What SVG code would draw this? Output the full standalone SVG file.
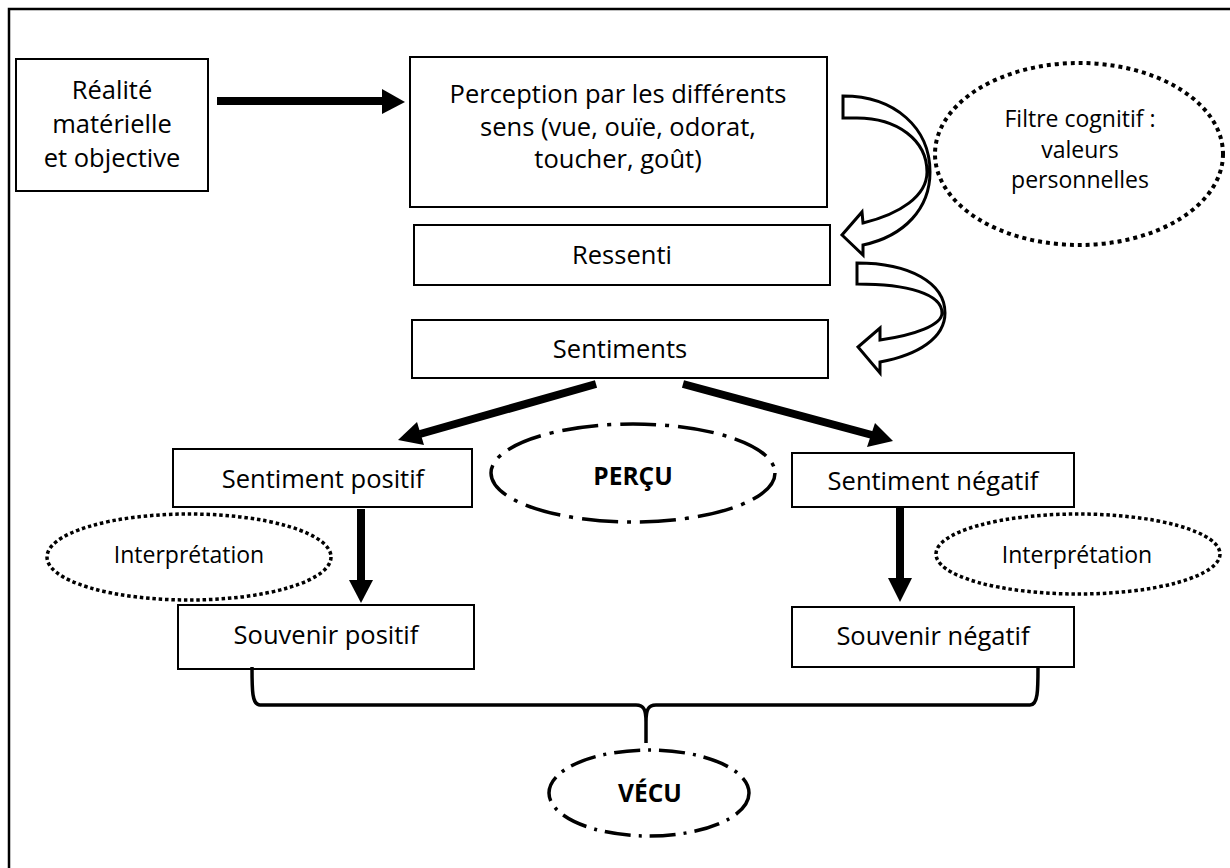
<svg xmlns="http://www.w3.org/2000/svg" width="1230" height="868" viewBox="0 0 1230 868">
<style>
.box{fill:#fff;stroke:#000;stroke-width:2}
.t{font-family:"Open Sans","Liberation Sans",sans-serif;font-size:25.5px;fill:#000;text-anchor:middle}
.ts{font-family:"Open Sans","Liberation Sans",sans-serif;font-size:23px;fill:#000;text-anchor:middle}
.tb{font-family:"Open Sans","Liberation Sans",sans-serif;font-size:24.5px;font-weight:bold;fill:#000;text-anchor:middle}
.dot{fill:none;stroke:#000;stroke-width:4;stroke-dasharray:4 4}
.dot2{fill:none;stroke:#000;stroke-width:3.5;stroke-dasharray:3.5 2.8}
.dd{fill:none;stroke:#000;stroke-width:3.5;stroke-dasharray:36 9 4 9}
.dd2{fill:none;stroke:#000;stroke-width:3.5;stroke-dasharray:26 8 3 8}
.shaft{stroke:#000;stroke-width:8;fill:none}
.head{fill:#000}
.hollow{fill:#fff;stroke:#000;stroke-width:3;stroke-linejoin:miter}
.frame{stroke:#000;stroke-width:2.5;fill:none}
</style>
<rect width="1230" height="868" fill="#fff"/>
<path class="frame" d="M9,868 V9 H1230"/>

<g id="realite">
<rect class="box" x="16" y="59" width="192" height="132"/>
<text class="t" x="112" y="99">Réalité</text>
<text class="t" x="112" y="133">matérielle</text>
<text class="t" x="112" y="167">et objective</text>
</g>

<g id="perception">
<rect class="box" x="410" y="57" width="417" height="150"/>
<text class="t" x="618" y="103">Perception par les différents</text>
<text class="t" x="618" y="135.5">sens (vue, ouïe, odorat,</text>
<text class="t" x="618" y="168">toucher, goût)</text>
</g>

<g id="filtre">
<ellipse class="dot" cx="1079" cy="154" rx="144" ry="91"/>
<text class="ts" x="1080" y="127">Filtre cognitif :</text>
<text class="ts" x="1080" y="158">valeurs</text>
<text class="ts" x="1080" y="188">personnelles</text>
</g>

<g id="ressenti">
<rect class="box" x="414" y="225" width="416" height="60"/>
<text class="t" x="622" y="264">Ressenti</text>
</g>

<g id="sentiments">
<rect class="box" x="412" y="320" width="416" height="58"/>
<text class="t" x="620" y="358">Sentiments</text>
</g>

<g id="sentiment-positif">
<rect class="box" x="173" y="449" width="299" height="58"/>
<text class="t" x="323" y="488">Sentiment positif</text>
</g>

<g id="percu">
<ellipse class="dd" cx="633" cy="473" rx="142" ry="49"/>
<text class="tb" x="633" y="485">PERÇU</text>
</g>

<g id="sentiment-negatif">
<rect class="box" x="792" y="453" width="282" height="54"/>
<text class="t" x="933" y="490">Sentiment négatif</text>
</g>

<g id="interpretation-gauche">
<ellipse class="dot2" cx="189" cy="557" rx="142" ry="43"/>
<text class="ts" x="189" y="563">Interprétation</text>
</g>

<g id="interpretation-droite">
<ellipse class="dot2" cx="1078" cy="554" rx="142" ry="40"/>
<text class="ts" x="1077" y="563">Interprétation</text>
</g>

<g id="souvenir-positif">
<rect class="box" x="178" y="605" width="296" height="64"/>
<text class="t" x="326" y="644">Souvenir positif</text>
</g>

<g id="souvenir-negatif">
<rect class="box" x="792" y="607" width="282" height="60"/>
<text class="t" x="933" y="645">Souvenir négatif</text>
</g>

<g id="vecu">
<ellipse class="dd2" cx="649" cy="793" rx="100" ry="43"/>
<text class="tb" x="650" y="802">VÉCU</text>
</g>

<g id="connectors">
<!-- Réalité -> Perception -->
<line class="shaft" x1="217" y1="101" x2="384" y2="101"/>
<polygon class="head" points="382,89 405,102 382,114"/>
<!-- Sentiments -> Sentiment positif -->
<line class="shaft" x1="596" y1="384" x2="420" y2="434"/>
<polygon class="head" points="417,422 398,440 424,445"/>
<!-- Sentiments -> Sentiment négatif -->
<line class="shaft" x1="683" y1="384" x2="872" y2="435"/>
<polygon class="head" points="875,423 893,441 867,447"/>
<!-- Sentiment positif -> Souvenir positif -->
<line class="shaft" x1="361" y1="509" x2="361" y2="582"/>
<polygon class="head" points="349,580 373,580 361,603"/>
<!-- Sentiment négatif -> Souvenir négatif -->
<line class="shaft" x1="900" y1="507" x2="900" y2="580"/>
<polygon class="head" points="888,578 912,578 900,602"/>
<!-- curved hollow arrows -->
<path class="hollow" d="M843,96 C895,96 930,128 930,172 C930,208 905,236 863,245 L863,255 L842,235 L862,212 L863,223 C900,214 927,196 927,172 C927,140 897,118 857,118 L843,118 Z"/>
<path class="hollow" d="M857,263 C910,263 945,283 945,313 C945,338 918,355 880,362 L880,373 L858,347 L880,328 L880,340 C915,335 942,325 942,313 C942,294 908,284 857,284 Z"/>
<!-- brace to VÉCU -->
<path fill="none" stroke="#000" stroke-width="3.5" d="M252,667 C252,690 252,705 260,705 L636,705 C644,705 646,710 646,722 L646,743 M646,722 C646,710 648,705 656,705 L1030,705 C1038,705 1038,690 1038,667"/>
</g>
</svg>
